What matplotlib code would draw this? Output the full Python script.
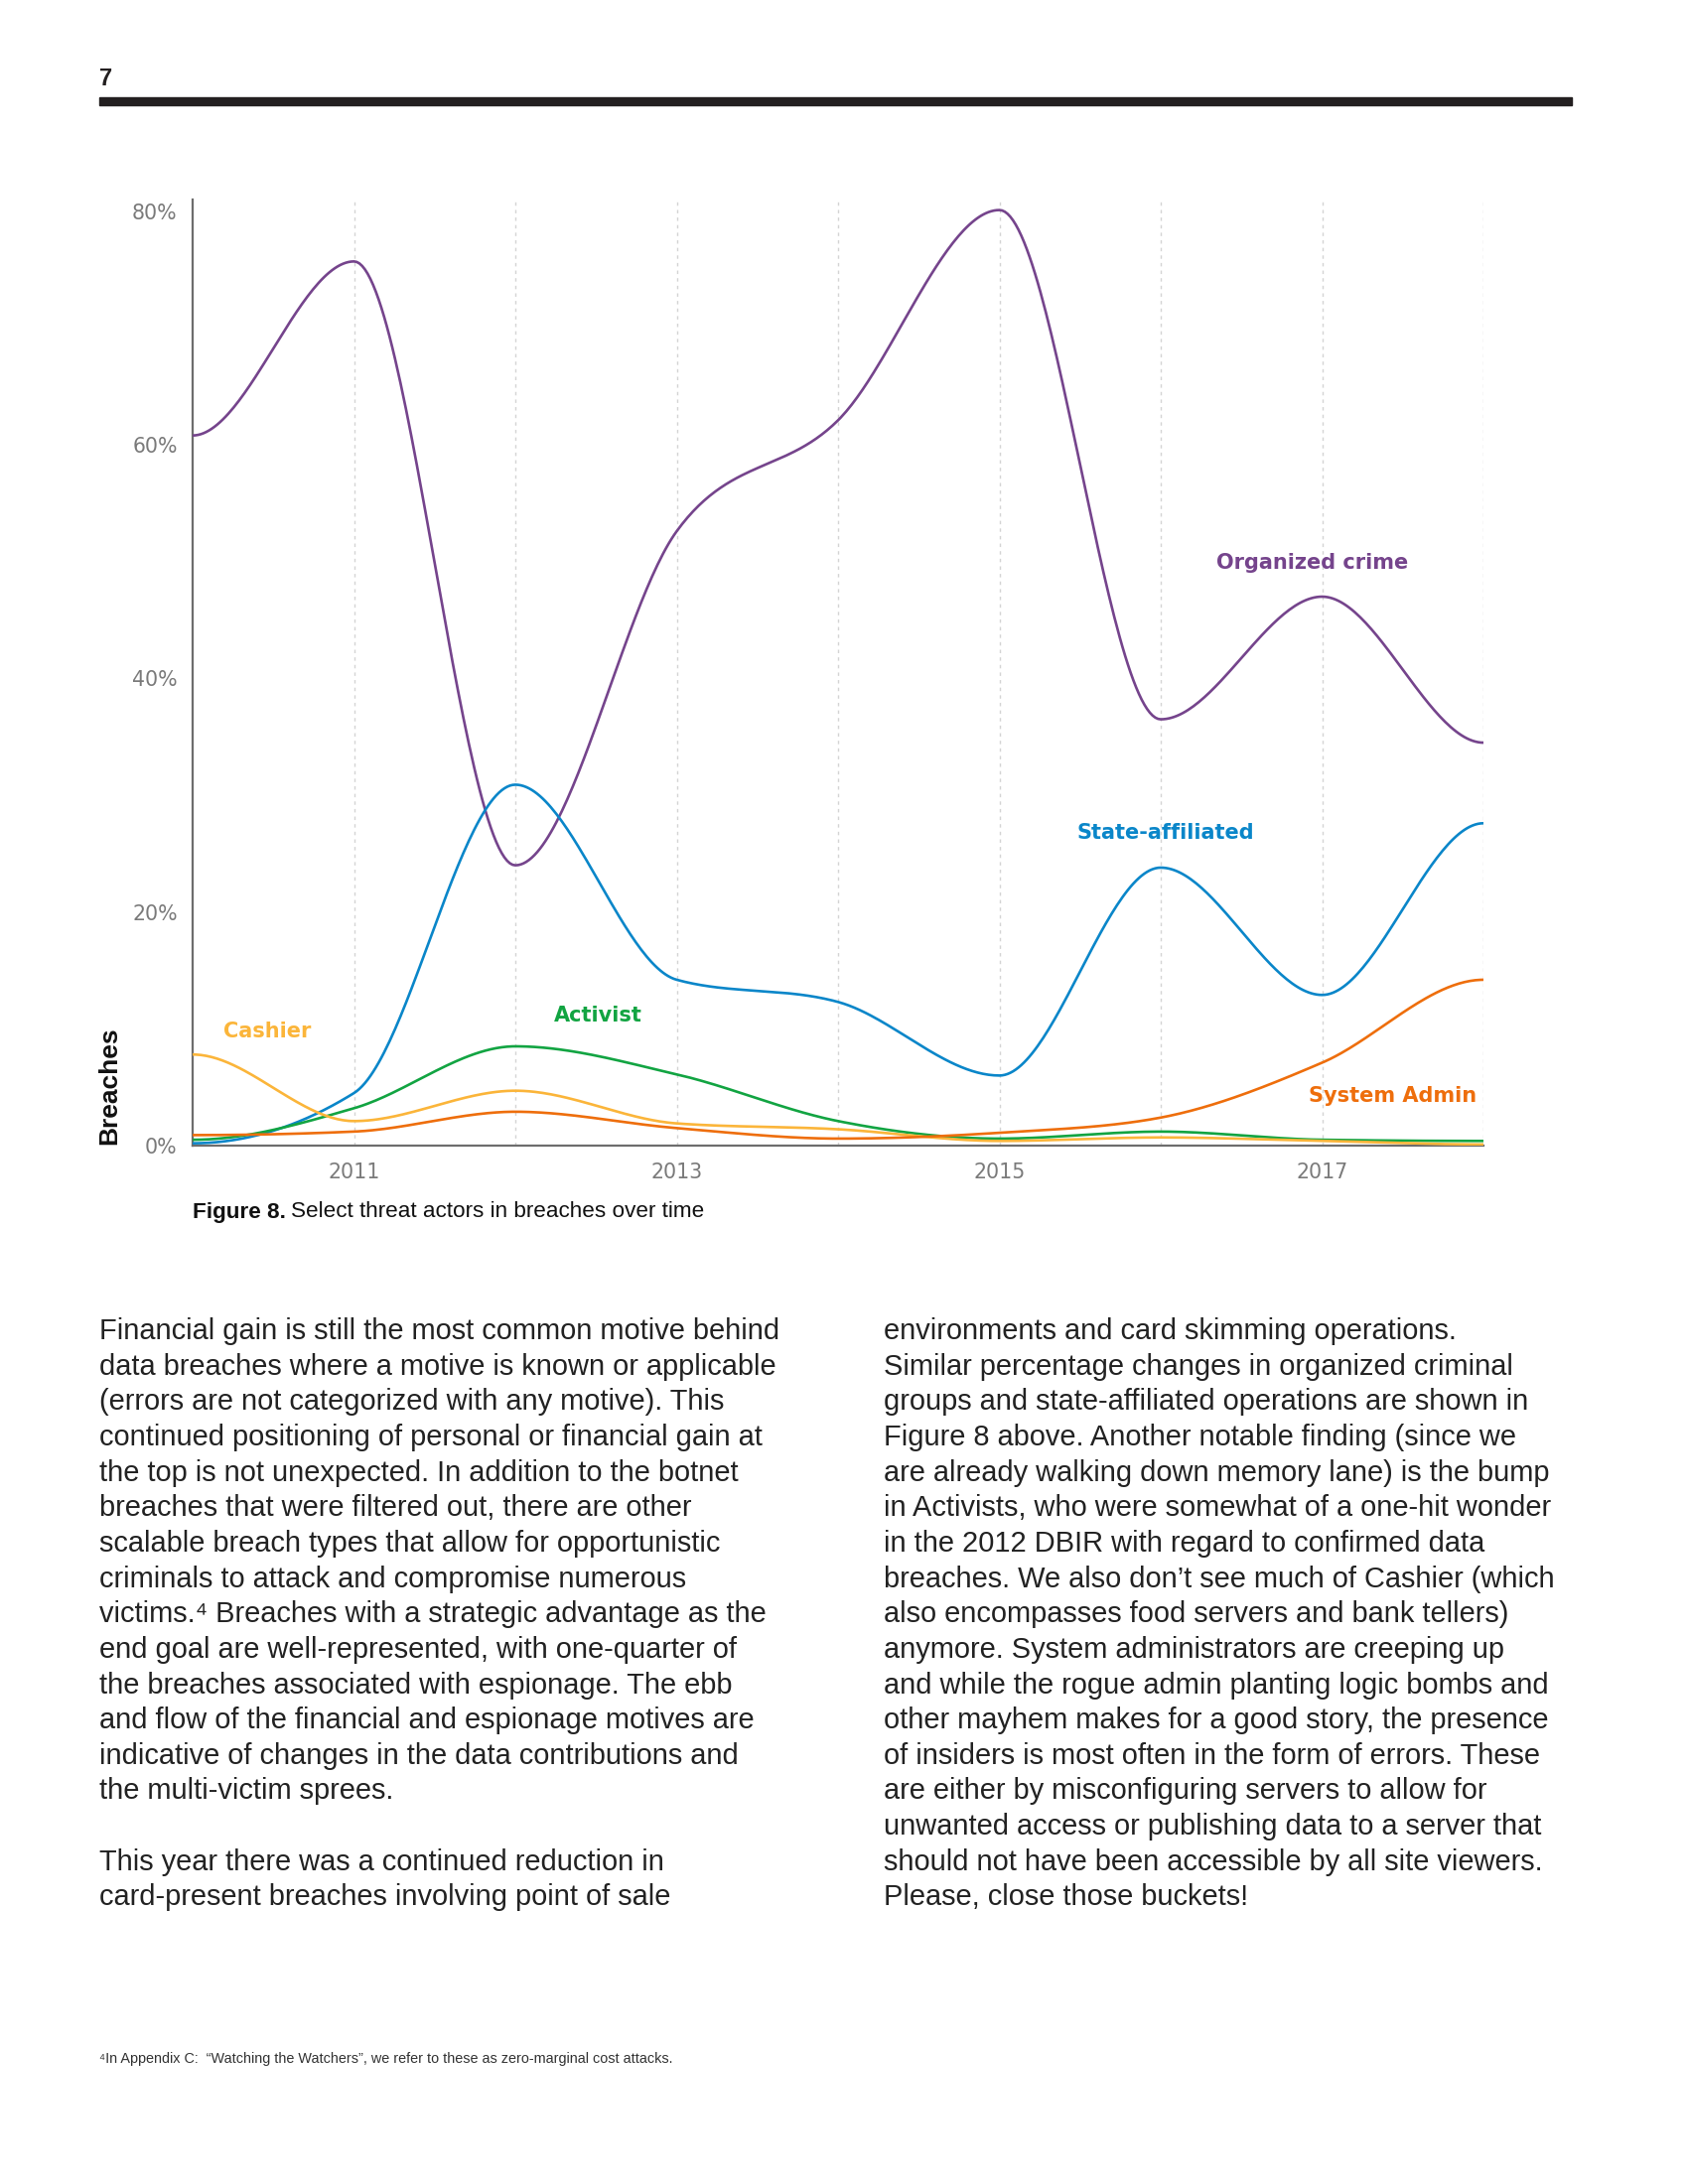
import numpy as np
import matplotlib
matplotlib.use("Agg")
import matplotlib.pyplot as plt
from matplotlib.patches import Rectangle

# data (percent of breaches per year)
years = [2010, 2011, 2012, 2013, 2014, 2015, 2016, 2017, 2018]
organized_crime = [60.8, 75.7, 24.0, 52.6, 62.1, 80.1, 36.5, 47.0, 34.5]
state_affiliated = [0.2, 4.5, 30.9, 14.2, 12.3, 6.0, 23.8, 12.9, 27.6]
activist = [0.5, 3.2, 8.5, 6.1, 2.1, 0.6, 1.2, 0.5, 0.4]
cashier = [7.8, 2.1, 4.7, 1.9, 1.4, 0.4, 0.7, 0.4, 0.1]
system_admin = [0.9, 1.2, 2.9, 1.5, 0.6, 1.1, 2.4, 7.1, 14.2]

series_names = ["Organized crime", "State-affiliated", "Activist", "Cashier", "System Admin"]
series_values = [organized_crime, state_affiliated, activist, cashier, system_admin]
series_colors = ["#75448c", "#0a86c9", "#12a442", "#fbb53a", "#ee6e0c"]
# label anchor (x in years, y in percent)
label_pos = [(2016.94, 49.9), (2016.03, 26.8), (2012.51, 11.1), (2010.46, 9.8), (2017.44, 4.25)]

x_tick_years = [2011, 2013, 2015, 2017]
y_ticks = [0, 20, 40, 60, 80]

left_col = [
    "Financial gain is still the most common motive behind",
    "data breaches where a motive is known or applicable",
    "(errors are not categorized with any motive). This",
    "continued positioning of personal or financial gain at",
    "the top is not unexpected. In addition to the botnet",
    "breaches that were filtered out, there are other",
    "scalable breach types that allow for opportunistic",
    "criminals to attack and compromise numerous",
    "victims.\u2074 Breaches with a strategic advantage as the",
    "end goal are well-represented, with one-quarter of",
    "the breaches associated with espionage. The ebb",
    "and flow of the financial and espionage motives are",
    "indicative of changes in the data contributions and",
    "the multi-victim sprees.",
    "",
    "This year there was a continued reduction in",
    "card-present breaches involving point of sale",
]
right_col = [
    "environments and card skimming operations.",
    "Similar percentage changes in organized criminal",
    "groups and state-affiliated operations are shown in",
    "Figure 8 above. Another notable finding (since we",
    "are already walking down memory lane) is the bump",
    "in Activists, who were somewhat of a one-hit wonder",
    "in the 2012 DBIR with regard to confirmed data",
    "breaches. We also don\u2019t see much of Cashier (which",
    "also encompasses food servers and bank tellers)",
    "anymore. System administrators are creeping up",
    "and while the rogue admin planting logic bombs and",
    "other mayhem makes for a good story, the presence",
    "of insiders is most often in the form of errors. These",
    "are either by misconfiguring servers to allow for",
    "unwanted access or publishing data to a server that",
    "should not have been accessible by all site viewers.",
    "Please, close those buckets!",
]
footnote = "\u2074In Appendix C:  \u201cWatching the Watchers\u201d, we refer to these as zero-marginal cost attacks."


def monotone_curve(x, y, n=60):
    # monotone cubic hermite, flat at the ends
    x = np.asarray(x, float)
    y = np.asarray(y, float)
    h = np.diff(x)
    s = np.diff(y) / h
    t = np.zeros_like(y)
    for i in range(1, len(y) - 1):
        p = (s[i - 1] * h[i] + s[i] * h[i - 1]) / (h[i - 1] + h[i])
        t[i] = (np.sign(s[i - 1]) + np.sign(s[i])) * min(abs(s[i - 1]), abs(s[i]), 0.5 * abs(p))
    xs, ys = [], []
    for i in range(len(y) - 1):
        u = np.linspace(0, 1, n)
        h00 = 2 * u**3 - 3 * u**2 + 1
        h10 = u**3 - 2 * u**2 + u
        h01 = -2 * u**3 + 3 * u**2
        h11 = u**3 - u**2
        xs.append(x[i] + u * h[i])
        ys.append(h00 * y[i] + h10 * h[i] * t[i] + h01 * y[i + 1] + h11 * h[i] * t[i + 1])
    return np.concatenate(xs), np.concatenate(ys)


plt.rcParams['font.family'] = ['Liberation Sans', 'DejaVu Sans']
chart_font = ['DejaVu Sans']

W, H = 1700, 2200
fig = plt.figure(figsize=(17, 22), dpi=100)

# header: page number and bar
fig.text(100 / W, 1 - 79 / H, "7", fontsize=17, fontweight="bold",
         va="center", ha="left", color="#231f20")
fig.patches.append(Rectangle((100 / W, 1 - 106 / H), 1483 / W, 8 / H,
                             transform=fig.transFigure, color="#231f20", zorder=3))

ax = fig.add_axes([194 / W, 1 - 1154 / H, 1300 / W, (1154 - 201) / H])

for name, vals, col in zip(series_names, series_values, series_colors):
    xs, ys = monotone_curve(years, vals)
    ax.plot(xs, ys, color=col, lw=1.9, solid_capstyle="round", zorder=3)

for name, (lx, ly), col in zip(series_names, label_pos, series_colors):
    ax.text(lx, ly, name, color=col, fontsize=15, fontweight="bold", family=chart_font,
            ha="center", va="center")

ax.set_xlim(2010, 2018)
ax.set_ylim(0, 81)
for yr in years[1:]:
    ax.axvline(yr, color="#d4d4d4", lw=1.0, ls=(0, (2.5, 3)), zorder=1)

ax.set_xticks(x_tick_years)
ax.set_xticklabels([str(v) for v in x_tick_years], family=chart_font)
ax.set_yticks(y_ticks)
ax.set_yticklabels(["{}%".format(v) for v in y_ticks], family=chart_font)
ax.tick_params(axis="both", length=0, labelsize=14.8, labelcolor="#7a7a7a")
ax.tick_params(axis="y", pad=11)
ax.tick_params(axis="x", pad=12)

for side in ["top", "right"]:
    ax.spines[side].set_visible(False)
for side in ["left", "bottom"]:
    ax.spines[side].set_color("#6d6d6d")
    ax.spines[side].set_linewidth(1.6)

fig.text(110 / W, 1 - 1153 / H, "Breaches", rotation=90, fontsize=19, fontweight="bold",
         ha="center", va="bottom", color="#111111")

# caption
renderer = fig.canvas.get_renderer()
cap_y = 1 - 1221 / H
t1 = fig.text(194 / W, cap_y, "Figure 8.", fontsize=16.2, fontweight="bold", va="center", ha="left", color="#111111")
bb = t1.get_window_extent(renderer)
fig.text((bb.x1 + 5) / W, cap_y, "Select threat actors in breaches over time", fontsize=16.2,
         va="center", ha="left", color="#111111")

# body text, two columns
line_step = 35.65
first_base = 1349
for col_x, lines in [(100, left_col), (890, right_col)]:
    for i, line in enumerate(lines):
        if line:
            fig.text(col_x / W, 1 - (first_base + i * line_step) / H, line, fontsize=20.9,
                     va="baseline", ha="left", color="#222222")

fig.text(100 / W, 1 - 2078 / H, footnote, fontsize=10.4, va="baseline", ha="left", color="#333333")

fig.savefig("out.png", dpi=100)
